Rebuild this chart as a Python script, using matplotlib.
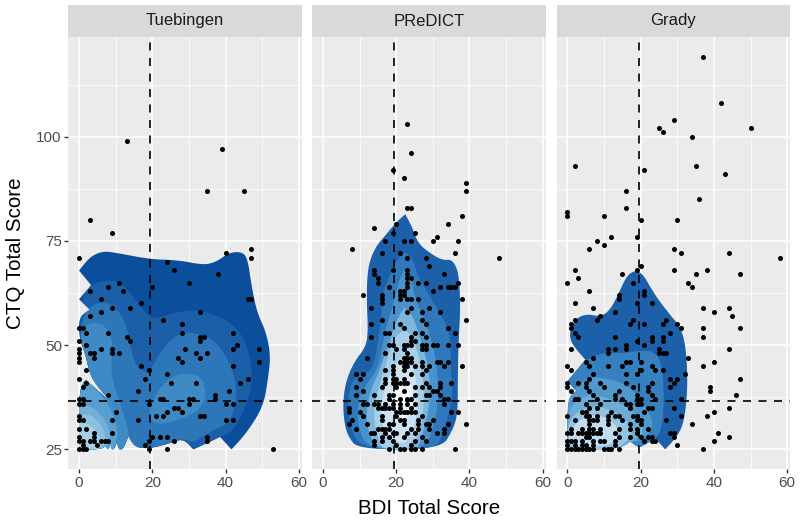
import matplotlib
matplotlib.use('Agg')
import matplotlib.pyplot as plt
import numpy as np
from matplotlib.patches import Polygon, Rectangle

plt.rcParams['font.family'] = ['Liberation Sans', 'DejaVu Sans']

paneles = ['Tuebingen', 'PReDICT', 'Grady']
x_ticks = [0, 20, 40, 60]
y_ticks = [25, 50, 75, 100]
corte_bdi = 19.5
corte_ctq = 36.5

# puntos (BDI, CTQ)
tue_bdi = [13, 39, 35, 45, 3, 9, 0, 40, 47, 47, 24, 26, 38, 30, 11, 8, 12, 3, 20, 6, 17, 46, 47, 9, 14, 6, 33, 3, 23, 28,
           0, 1, 2, 8, 28, 42, 13, 33, 34, 0, 14, 33, 2, 43, 0, 6, 9, 29, 42, 49, 0, 3, 4, 9, 11, 32, 35, 0, 4, 27, 33,
           0, 28, 49, 17, 42, 19, 2, 24, 0, 18, 46, 2, 25, 32, 44, 1, 16, 41, 8, 37, 0, 1, 22, 23, 30, 31, 37, 0, 1, 19,
           42, 40, 30, 26, 27, 10, 24, 28, 21, 23, 33, 34, 0, 0, 1, 9, 16, 40, 42, 0, 2, 9, 4, 0, 4, 20, 22, 24, 35,
           0, 1, 3, 4, 6, 7, 8, 19, 26, 35, 1, 5, 18, 0, 1, 2, 19, 24, 53]
tue_ctq = [99, 97, 87, 87, 80, 77, 71, 72, 73, 71, 70, 68, 67, 65, 65, 64, 63, 63, 64, 61, 60, 61, 61, 59, 59, 58, 58, 57, 56, 55,
           54, 54, 53, 53, 53, 53, 52, 52, 52, 51, 51, 51, 50, 50, 49, 49, 49, 49, 49, 49, 48, 48, 48, 48, 48, 48, 48, 47, 47, 47, 47,
           46, 46, 46, 45, 45, 44, 44, 43, 42, 42, 42, 41, 41, 41, 41, 40, 39, 39, 38, 38, 37, 37, 37, 37, 37, 37, 37, 36, 36, 36,
           36, 36, 36, 35, 35, 34, 34, 34, 33, 33, 33, 33, 33, 32, 32, 32, 32, 32, 32, 30, 30, 29, 29, 28, 28, 28, 28, 28, 28,
           27, 27, 27, 27, 27, 27, 27, 27, 27, 27, 26, 26, 26, 25, 25, 25, 25, 25, 25]

pre_bdi = [23, 24, 19, 22, 39, 39, 23, 24, 38, 34, 14, 20, 19, 25, 31, 30, 37, 17, 22, 24, 8, 16, 21, 36, 23, 28, 48,
           29, 14, 19, 23, 14, 23, 33, 15, 24, 23, 15, 23, 26, 28, 37, 18, 23, 32, 34, 35, 36, 21, 22, 30, 11, 16, 21, 22,
           16, 21, 23, 24, 26, 38, 16, 13, 24, 29, 23, 27, 32, 16, 27, 39, 13, 21, 28, 22, 34, 17, 18, 27, 36, 25, 13, 24, 28,
           24, 25, 18, 19, 22, 23, 24, 27, 28, 30, 31, 34, 37, 20, 22, 27, 28, 17, 23, 23, 22, 24, 12,
           21, 22, 23, 24, 31, 32, 34, 27, 22, 23, 19, 25, 27, 29, 33, 38, 19, 22, 28, 9, 11, 17, 24, 27, 19,
           10, 17, 19, 20, 22, 17, 19, 20, 21, 22, 23, 28, 32, 35, 9, 16, 20, 25, 27, 29, 32, 11, 22, 30, 31,
           9, 14, 18, 19, 25, 28, 29, 32, 18, 24, 21, 23, 34, 33, 11, 12, 14, 15, 17, 19, 21, 23, 25, 33,
           15, 16, 17, 18, 21, 24, 7, 19, 7, 10, 20, 21, 22, 23, 24, 25, 35, 37, 11, 16, 20, 27,
           16, 8, 21, 22, 30, 26, 7, 12, 18, 19, 22, 26, 28, 29, 34, 39, 9, 15, 16, 17, 18, 24, 26, 29, 33,
           13, 14, 17, 19, 20, 23, 25, 31, 33, 16, 18, 22, 27, 14, 16, 19, 25, 28, 14, 20, 24, 18, 21, 22, 24, 25, 27, 36]
pre_ctq = [103, 96, 92, 90, 89, 87, 83, 83, 81, 79, 78, 79, 77, 77, 76, 75, 75, 75, 75, 75, 73, 72, 72, 72, 71, 71, 71,
           69, 68, 68, 68, 67, 67, 67, 66, 66, 66, 65, 65, 65, 65, 65, 64, 64, 64, 64, 64, 64, 63, 63, 63, 62, 62, 62, 62,
           61, 61, 61, 61, 61, 61, 60, 59, 59, 59, 58, 58, 58, 56, 56, 56, 55, 55, 55, 54, 54, 53, 53, 53, 53, 53, 52, 52, 52,
           51, 51, 50, 50, 50, 50, 50, 50, 50, 50, 50, 50, 50, 49, 49, 49, 49, 48, 48, 47, 47, 47, 47,
           46, 46, 46, 46, 46, 46, 46, 46, 45, 45, 45, 45, 45, 45, 45, 45, 44, 44, 44, 43, 43, 44, 43, 43, 43,
           42, 42, 42, 42, 42, 41, 41, 41, 41, 41, 41, 41, 41, 41, 40, 40, 40, 40, 40, 40, 40, 39, 39, 39, 39,
           38, 38, 38, 38, 38, 38, 38, 38, 37, 37, 37, 37, 37, 37, 36, 36, 36, 36, 36, 36, 36, 36, 36, 36,
           35, 35, 35, 35, 35, 35, 35, 35, 34, 34, 34, 34, 34, 34, 34, 34, 34, 34, 33, 33, 33, 33,
           32, 32, 32, 32, 32, 32, 31, 31, 31, 31, 31, 31, 31, 31, 31, 31, 30, 30, 30, 30, 30, 30, 30, 30, 30,
           29, 29, 29, 29, 29, 29, 29, 29, 29, 28, 28, 28, 28, 27, 27, 27, 27, 27, 26, 26, 26, 25, 25, 25, 25, 25, 25, 25]

gra_bdi = [37, 42, 29, 25, 26, 50, 34, 2, 21, 35, 43, 16, 36, 16, 0, 0, 10, 20, 30, 12, 19, 8, 10, 6, 29, 31, 44, 58,
           20, 2, 3, 15, 19, 29, 35, 38, 47, 0, 18, 33, 34, 6, 14, 21, 21, 14, 2, 19, 23, 7, 37, 44, 13, 40, 9, 45, 8, 2, 18, 27,
           1, 17, 21, 26, 30, 1, 31, 37, 47, 2, 28, 3, 13, 23, 26, 37, 19, 23, 26, 16, 21, 1, 11, 13, 16, 25, 44, 11, 25, 26, 27,
           7, 33, 5, 16, 17, 20, 40, 0, 6, 11, 15, 23, 37, 1, 20, 24, 26, 19, 7, 16, 32, 6, 28, 30, 47, 0, 3, 5, 9, 16, 23, 29,
           0, 5, 10, 18, 22, 28, 39, 1, 6, 22, 39, 14, 13, 7, 23, 19, 46, 2, 3, 8, 13, 15, 19, 20, 24, 31, 5, 9, 16, 17, 19, 20,
           6, 8, 17, 22, 23, 29, 44, 5, 12, 21, 40, 4, 0, 5, 6, 8, 11, 13, 14, 18, 19, 31, 38, 2, 6, 7, 8, 11, 15, 19, 20, 27,
           6, 11, 17, 20, 34, 1, 4, 6, 7, 9, 14, 17, 19, 22, 0, 1, 3, 4, 5, 6, 7, 8, 9, 13, 19, 28, 29, 41,
           5, 6, 14, 17, 20, 22, 23, 29, 44, 0, 1, 2, 4, 7, 9, 10, 13, 21, 23, 24, 40, 0, 2, 4, 5, 7, 13, 30,
           0, 1, 2, 3, 4, 5, 6, 7, 10, 11, 12, 14, 37]
gra_ctq = [119, 108, 104, 102, 101, 102, 100, 93, 92, 93, 91, 87, 85, 83, 82, 81, 81, 80, 80, 76, 76, 75, 74, 73, 73, 72, 72, 71,
           69, 68, 66, 67, 68, 68, 67, 68, 67, 65, 65, 65, 64, 63, 62, 63, 62, 61, 60, 60, 60, 59, 59, 59, 58, 58, 57, 57, 56, 56, 56, 56,
           55, 55, 55, 55, 55, 54, 54, 54, 54, 53, 53, 52, 52, 52, 52, 52, 51, 51, 51, 50, 50, 49, 49, 49, 49, 49, 49, 48, 48, 48, 48,
           47, 47, 46, 46, 46, 46, 46, 45, 45, 45, 45, 45, 45, 44, 44, 44, 44, 43, 43, 43, 43, 42, 42, 42, 42, 41, 41, 41, 41, 41, 41, 41,
           40, 40, 40, 40, 40, 40, 40, 39, 39, 39, 39, 39, 38, 38, 38, 38, 38, 37, 37, 37, 37, 37, 37, 37, 37, 37, 36, 36, 36, 36, 36, 36,
           35, 35, 35, 35, 35, 35, 35, 34, 34, 34, 34, 34, 33, 33, 33, 33, 33, 33, 33, 33, 33, 33, 33, 32, 32, 32, 32, 32, 32, 32, 32, 32,
           31, 31, 31, 31, 31, 30, 30, 30, 30, 30, 30, 30, 30, 30, 29, 29, 29, 29, 29, 29, 29, 29, 29, 29, 29, 29, 29, 29,
           28, 28, 28, 28, 28, 28, 28, 28, 28, 27, 27, 27, 27, 27, 27, 27, 27, 27, 27, 27, 27, 26, 26, 26, 26, 26, 26, 26,
           25, 25, 25, 25, 25, 25, 25, 25, 25, 25, 25, 25, 25]

# contornos de densidad, del mas oscuro al mas claro
tue_colores = ['#0B4F9C', '#1A5FA8', '#2D76B8', '#3F8AC5', '#3F8AC5', '#589ED0', '#72B0D9', '#8CC0E0', '#A6CFE7']
tue_contornos = [
    [(0, 67.9), (3, 71.2), (6.6, 72.6), (11, 72), (19.4, 70.6), (27, 70.4), (34, 69.2), (37.5, 70), (41, 72.2), (44.4, 72.4),
     (46, 70.8), (47, 64.7), (48.5, 58), (51, 53.3), (52.3, 47.6), (51.6, 42), (50.3, 35.3), (45.7, 28.9), (41.6, 25),
     (38.5, 28), (35, 26.5), (31.2, 25), (28.5, 27.6), (24.8, 26.5), (19.4, 25.2), (15.2, 25.5), (13.5, 28.2), (12, 25),
     (11, 25), (10.3, 26.7), (9.5, 25), (9, 25), (8.6, 26.2), (8, 25), (7.1, 26), (6.3, 25), (0, 25), (0, 39.3), (1.8, 41.7),
     (6.5, 38), (8.8, 36.4), (5.3, 39.8), (3, 42.9), (1.8, 47.7), (0, 52), (0, 56.8), (3, 58.5), (0, 61), (3.3, 64.4)],
    [(0, 61), (3.9, 64.9), (8.5, 65.7), (12.1, 64.5), (15.7, 60.5), (19.4, 56.5), (22, 56.7), (25.7, 57.7), (31.2, 58.5),
     (35.7, 57.7), (40.3, 56.1), (43.9, 53.3), (46.6, 48.1), (47.4, 41.7), (45.7, 35.3), (41.6, 28.9), (38.5, 28.1),
     (34.8, 26.5), (31.2, 25), (0, 25)],
    [(0, 56.8), (4.8, 60.5), (9.4, 59.7), (13, 55.3), (15, 44.9), (18.9, 43.3), (22.1, 48.1), (25.7, 52.1), (30.3, 53.3),
     (37.5, 51.3), (42.1, 44.1), (43.2, 37.7), (41.2, 31.3), (34.8, 28.8), (31.2, 26.5), (28.5, 27.7), (24.8, 26.5),
     (19.4, 25.3), (0, 25)],
    [(0, 52.1), (2.1, 55.3), (6.6, 55.3), (9.4, 51.3), (8.5, 43.3), (11.2, 36.1), (13.5, 29.7), (13.9, 25), (0, 25)],
    [(26.6, 42.9), (31.2, 43.3), (33.9, 41.7), (34.8, 37.7), (32.5, 34.1), (27.5, 32.1), (22.1, 30.9), (19.2, 32.1),
     (19.4, 35.3), (21.6, 39.3), (24.4, 41.7)],
    [(0, 39.3), (1.8, 41.7), (4.4, 39.7), (7.5, 36.5), (9.8, 32.5), (10.7, 28.5), (9.4, 25), (0, 25)],
    [(0, 34.9), (2.5, 35.7), (5.7, 33.7), (8, 30.5), (8.5, 27.3), (7.1, 25), (0, 25)],
    [(0, 33.3), (3, 33.5), (5.7, 31.3), (7.1, 28.9), (7.1, 26.5), (5.7, 25), (0, 25)],
    [(0, 31.5), (3, 31), (5.2, 29), (5.8, 27), (5, 25), (0, 25)],
]

pre_colores = ['#1C60AA', '#2E78BB', '#4A92CB', '#7DB5DC', '#A8CFE8', '#CFE2F3', '#E8F1FA', '#F7FBFF']
pre_contornos = [
    [(22.5, 81.4), (24.5, 78), (25, 76.5), (26.4, 74.1), (28.6, 72.5), (31.4, 70.9), (33.2, 70.4), (35.2, 70.5), (36.8, 68.1),
     (37.3, 64.1), (37.5, 58.5), (37, 50.5), (36.8, 41.7), (36.8, 33.7), (35.5, 29.7), (32.1, 25), (9.8, 25), (6.8, 28.1),
     (5.7, 32.1), (5.5, 36.9), (6.4, 41.7), (8.6, 46.1), (11.8, 49.7), (12.3, 53.7), (12, 59.3), (12, 65.7), (12.7, 70.1),
     (14.5, 73.7), (16.8, 76.1), (19.1, 78.5), (20.9, 80.2)],
    [(15.9, 61.7), (18.8, 68.1), (20.9, 71.3), (22.3, 72.3), (24.5, 70.9), (25.9, 66.5), (28.6, 62.5), (31.4, 58.5), (34.1, 54.5),
     (35, 49.7), (34.8, 45.7), (35.5, 39.3), (34.5, 33.7), (32.7, 28.9), (30.9, 25), (10.5, 25), (7.3, 30.5), (6.8, 37.7),
     (8.2, 42.1), (12.3, 43.3), (14.1, 45.7), (15.5, 53.7), (16.1, 58.5)],
    [(22.5, 68.1), (24.1, 66.1), (25, 61.7), (27.3, 56.9), (29.1, 52.9), (30.9, 46.5), (31.5, 40.1), (31.4, 36.1), (30, 29.7),
     (27.7, 25), (12.3, 25), (9.5, 30.5), (9.5, 37.7), (13.6, 42.5), (15.5, 45.7), (16.8, 52.9), (18.8, 58.5), (20, 63.3), (21.8, 67.7)],
    [(22.3, 58.9), (24.1, 57.7), (25.9, 53.7), (28.6, 45.7), (29.4, 39.3), (28.6, 32.9), (26.4, 26.5), (25.5, 25), (14.5, 25),
     (11.8, 30.5), (12.3, 37.7), (15.5, 44.1), (17.7, 49.7), (20.5, 56.9)],
    [(22.3, 53.7), (24.5, 52.1), (26.8, 45.7), (27.7, 37.7), (26.8, 29.7), (24.1, 25), (16.8, 25), (15.5, 26.5), (13.6, 32.9),
     (15, 39.3), (17.3, 45.7), (19.5, 52.1)],
    [(22.3, 47.3), (25, 44.1), (25.9, 37.7), (25.5, 31.3), (22.3, 26.5), (18.2, 27.3), (15.5, 32.1), (16.4, 38.5), (19.1, 44.9)],
    [(22.3, 42.5), (24.5, 40.1), (24.5, 35.3), (22.3, 32.1), (19.1, 32.9), (17.7, 36.9), (19.5, 40.9)],
    [(21.8, 40.1), (23.9, 38.5), (23.2, 35.7), (20.9, 35.3), (19.1, 36.9), (20, 39.3)],
]

gra_colores = ['#1C60AA', '#3680BF', '#5099CD', '#6DACD7', '#95C3E2', '#C2DBEE']
gra_contornos = [
    [(0, 51.5), (2.2, 56.4), (5.4, 57.5), (9, 56.8), (11.7, 58.4), (14, 62.4), (16.3, 66.8), (18.8, 68), (20.8, 66.8), (22.6, 64),
     (24.9, 60.8), (28.5, 56.8), (30.8, 54.4), (32.2, 50.4), (32.8, 43.2), (32.6, 36.8), (31.7, 31.2), (29.9, 28), (26.7, 25),
     (24, 27.7), (21.7, 26.4), (19.5, 25.3), (17.2, 26.9), (14, 25), (0, 25), (0, 37.3), (2.5, 39), (0, 41.3), (4.9, 46.5)],
    [(0, 41.3), (1.3, 44.1), (4.9, 46.5), (9.9, 48.2), (14.5, 48), (20, 48.7), (23.5, 48.5), (25.4, 46.5), (26.3, 40.9), (26.3, 34),
     (25.4, 29), (24, 27.7), (19.5, 25.3), (17.2, 26.9), (14, 25), (0, 25)],
    [(0, 37.3), (1.7, 39.3), (5.8, 42.5), (9.9, 42.1), (14.5, 41.3), (19, 38.5), (22.2, 34), (23.5, 31), (22.2, 28.5), (19.5, 26.9),
     (17.2, 26.9), (14, 25), (0, 25)],
    [(0, 33.3), (1.7, 36.1), (5.4, 38.1), (9.9, 37.7), (14.5, 36.1), (18.5, 33.7), (20.8, 31.3), (20.4, 28.5), (17.6, 26.9), (14, 25), (0, 25)],
    [(0, 30.9), (2.6, 34.1), (6.3, 35.3), (10.8, 34.9), (14.9, 32.9), (17.6, 30.5), (17.6, 28.1), (14.5, 25.7), (12.6, 25), (0, 25)],
    [(0.4, 28.5), (2.6, 31.7), (6.3, 33.3), (9.9, 32.9), (13.5, 30.9), (14, 27.7), (10.8, 25.7), (3.5, 25.7), (0.8, 26.5)],
]

puntos = [(tue_bdi, tue_ctq), (pre_bdi, pre_ctq), (gra_bdi, gra_ctq)]
contornos = [tue_contornos, pre_contornos, gra_contornos]
colores = [tue_colores, pre_colores, gra_colores]
izquierdas = [68.4, 312.3, 556.7]

fig = plt.figure(figsize=(8, 5.22), dpi=100)


def suavizar(vertices, pasadas=3):
    # corta las esquinas suaves y deja las puntas (dientes del contorno)
    v = np.array(vertices, dtype=float)
    for _ in range(pasadas):
        nuevos = []
        n = len(v)
        for k in range(n):
            a = v[k - 1] * [3.667, 4.17]
            b = v[k] * [3.667, 4.17]
            c = v[(k + 1) % n] * [3.667, 4.17]
            u = (b - a) / np.linalg.norm(b - a)
            w = (c - b) / np.linalg.norm(c - b)
            if np.dot(u, w) < 0.35:
                nuevos.append(v[k])
            else:
                nuevos.append(0.75 * v[k] + 0.25 * v[k - 1])
                nuevos.append(0.75 * v[k] + 0.25 * v[(k + 1) % n])
        v = np.array(nuevos)
    return v


def dibujar_panel(i):
    ax = fig.add_axes([izquierdas[i] / 800, 1 - 469 / 522, 233.4 / 800, 432 / 522])
    ax.set_facecolor('#EBEBEB')
    ax.set_xlim(-2.9, 60.8)
    ax.set_ylim(20.3, 123.9)
    for lado in ax.spines.values():
        lado.set_visible(False)

    ax.set_xticks(x_ticks)
    ax.set_yticks(y_ticks)
    ax.set_xticks([10, 30, 50], minor=True)
    ax.set_yticks([37.5, 62.5, 87.5, 112.5], minor=True)
    ax.grid(True, which='major', color='white', lw=1.1)
    ax.grid(True, which='minor', color='white', lw=0.55)
    ax.set_axisbelow(True)
    ax.tick_params(which='minor', length=0)
    ax.tick_params(which='major', length=2.7, width=1.0, color='#333333', labelcolor='#4D4D4D', labelsize=11, pad=2)
    if i > 0:
        ax.tick_params(axis='y', which='major', left=False, labelleft=False)

    # el contorno exterior recorta a los demas
    exterior = None
    for vertices, color in zip(contornos[i], colores[i]):
        p = Polygon(suavizar(vertices), closed=True, facecolor=color, edgecolor='none', zorder=2)
        ax.add_patch(p)
        if exterior is None:
            exterior = p
        else:
            p.set_clip_path(exterior)

    ax.scatter(puntos[i][0], puntos[i][1], s=13, color='black', linewidths=0, zorder=3)
    ax.axvline(corte_bdi, color='black', lw=1.2, dashes=(4.8, 4.5), zorder=4)
    ax.axhline(corte_ctq, color='black', lw=1.2, dashes=(4.8, 4.5), zorder=4)

    ax.add_patch(Rectangle((0, 1), 1, 32 / 432, transform=ax.transAxes, facecolor='#D9D9D9', edgecolor='none', clip_on=False))
    ax.text(0.5, 1 + 16 / 432, paneles[i], transform=ax.transAxes, ha='center', va='center', fontsize=12, color='#1A1A1A')


for i in range(3):
    dibujar_panel(i)

fig.text(429 / 800, 1 - 508 / 522, 'BDI Total Score', ha='center', va='center', fontsize=14.8)
fig.text(16 / 800, 1 - 253 / 522, 'CTQ Total Score', ha='center', va='center', rotation=90, fontsize=14.8)

fig.savefig('out.png', dpi=100)
